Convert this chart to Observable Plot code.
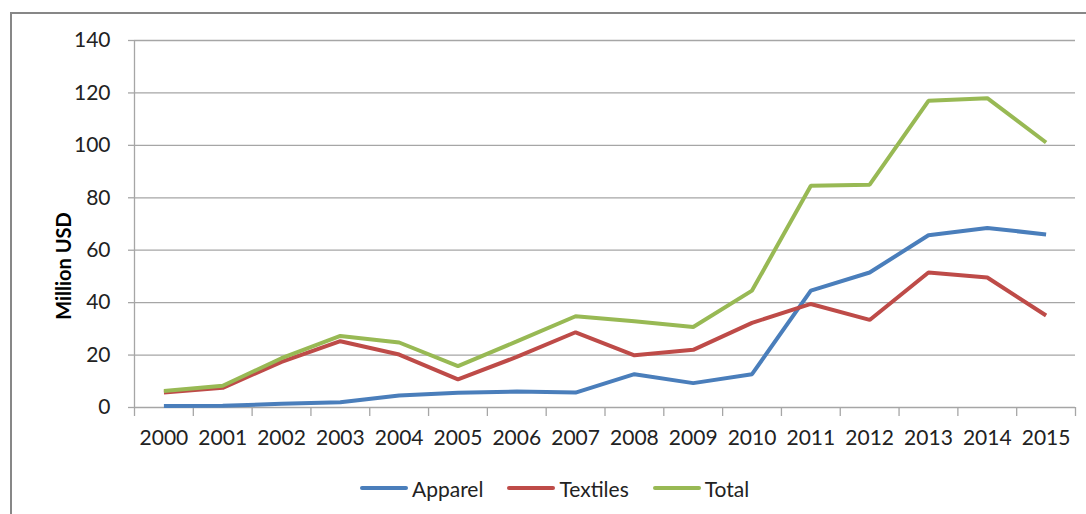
<!DOCTYPE html>
<html>
<head>
<meta charset="utf-8">
<script src="https://cdn.jsdelivr.net/npm/d3@7"></script>
<script src="https://cdn.jsdelivr.net/npm/@observablehq/plot@0.6"></script>
<style>
  html, body { margin: 0; padding: 0; background: #fff; }
  #wrap { position: relative; width: 1086px; height: 514px; overflow: hidden; font-family: Lato, "Open Sans", sans-serif; }
  #frame { position: absolute; left: 10px; top: 12px; width: 1200px; height: 700px;
           border-left: 2px solid #878787; border-top: 2px solid #878787; box-sizing: border-box; }
  #chart { position: absolute; left: 0; top: 0; }
  #ylabel { position: absolute; left: 63px; top: 266px; transform: translate(-50%, -50%) rotate(-90deg);
            white-space: nowrap; font-weight: bold; font-size: 20px; color: #000; line-height: 1; }
  #legend { position: absolute; left: 360px; top: 474px; height: 28px; display: flex; align-items: center; gap: 24px;
            font-size: 21px; color: #222; }
  .item { display: flex; align-items: center; gap: 4px; }
  .sw { display: inline-block; width: 48px; height: 4px; border-radius: 2px; }
</style>
</head>
<body>
<div id="wrap">
  <div id="frame"></div>
  <div id="chart"></div>
  <div id="ylabel"></div>
  <div id="legend"></div>
</div>
<script>
const years = [2000, 2001, 2002, 2003, 2004, 2005, 2006, 2007, 2008, 2009, 2010, 2011, 2012, 2013, 2014, 2015];
const apparel  = [0.6, 0.7, 1.4, 2.0, 4.6, 5.6, 6.1, 5.7, 12.7, 9.3, 12.7, 44.6, 51.5, 65.7, 68.5, 66.0];
const textiles = [5.7, 7.5, 17.4, 25.3, 20.2, 10.7, 19.3, 28.7, 19.9, 22.0, 32.3, 39.5, 33.4, 51.5, 49.6, 35.1];
const total    = [6.3, 8.3, 18.8, 27.3, 24.8, 15.8, 25.2, 34.8, 32.9, 30.7, 44.6, 84.6, 85.0, 117.0, 118.0, 101.1];
const seriesNames = ["Apparel", "Textiles", "Total"];
const seriesColors = ["#4A7EBB", "#BE4B48", "#98B954"];
const yTicks = [0, 20, 40, 60, 80, 100, 120, 140];
const yLabel = "Million USD";

const seriesValues = [apparel, textiles, total];
const rows = seriesNames.flatMap((name, s) =>
  years.map((yr, i) => ({series: name, year: yr, value: seriesValues[s][i]})));
const xMin = years[0] - 0.5, xMax = years[years.length - 1] + 0.5;
const boundaries = years.map(y => y - 0.5).concat([xMax]);
const grid = "#A6A6A6";

const chart = Plot.plot({
  width: 1086,
  height: 460,
  marginLeft: 134,
  marginRight: 11,
  marginTop: 40,
  marginBottom: 53,
  style: {fontFamily: "Lato, 'Open Sans', sans-serif", fontSize: "21px", color: "#222", background: "transparent", overflow: "visible"},
  x: {type: "linear", domain: [xMin, xMax]},
  y: {domain: [0, 140]},
  color: {domain: seriesNames, range: seriesColors},
  marks: [
    Plot.ruleY(yTicks, {stroke: grid, strokeWidth: 1.3}),
    Plot.ruleX([xMin], {stroke: grid, strokeWidth: 1.3}),
    Plot.axisY(yTicks, {tickSize: 6, tickPadding: 18, stroke: grid, strokeWidth: 1.3, fill: "#222", label: null}),
    Plot.axisX(boundaries, {tickSize: 9, tickFormat: () => "", stroke: grid, strokeWidth: 1.3, label: null}),
    Plot.axisX(years, {tickSize: 0, tickPadding: 23, tickFormat: d => String(d), fill: "#222", label: null}),
    Plot.line(rows, {x: "year", y: "value", z: "series", stroke: "series", strokeWidth: 4,
                     strokeLinejoin: "miter", strokeLinecap: "butt"})
  ]
});
document.getElementById("chart").appendChild(chart);
document.getElementById("ylabel").textContent = yLabel;

const legend = document.getElementById("legend");
seriesNames.forEach((name, i) => {
  const item = document.createElement("div");
  item.className = "item";
  const sw = document.createElement("span");
  sw.className = "sw";
  sw.style.background = seriesColors[i];
  const label = document.createElement("span");
  label.textContent = name;
  item.appendChild(sw);
  item.appendChild(label);
  legend.appendChild(item);
});
</script>
</body>
</html>
